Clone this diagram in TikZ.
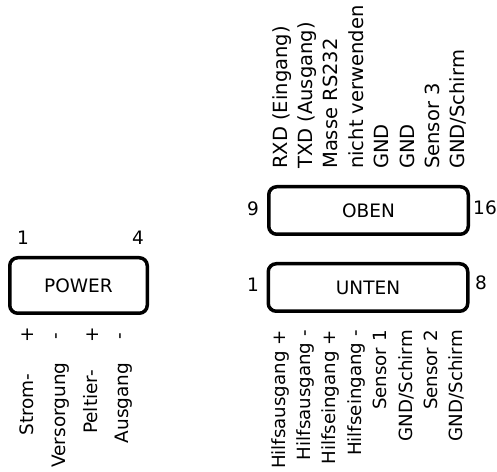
\documentclass[tikz,border=0pt]{standalone}
\usepackage{fontspec}
\setmainfont{DejaVu Sans}
\usetikzlibrary{arrows,shapes}

\begin{document}
\begin{tikzpicture}[>=latex]
      \tikzstyle{every node}=[font=\fontsize{18.5bp}{22bp}\selectfont]
      \tikzstyle{conbox}=[draw, rounded corners=8bp, line width=3.5bp, inner sep=0pt]
      \tikzstyle{pinup}=[rotate=90, inner sep=0pt, anchor=base west, font=\fontsize{19.5bp}{22bp}\selectfont]
      \tikzstyle{pindown}=[rotate=90, inner sep=0pt, anchor=base east, font=\fontsize{18.2bp}{22bp}\selectfont]
      \tikzstyle{pinmid}=[rotate=90, inner sep=0pt, anchor=base]

\useasboundingbox (0bp,0bp) rectangle (497bp,472bp);
%%
\node (c_power) at (78.5bp,186.5bp) [conbox, minimum width=137.5bp, minimum height=55.5bp] {POWER};
  \node (c_oben) at (368.5bp,261.5bp) [conbox, minimum width=199.5bp, minimum height=47.5bp] {OBEN};
  \node (c_unten) at (368bp,184.5bp) [conbox, minimum width=199.5bp, minimum height=47.5bp] {UNTEN};
%%
  \node (n_p1) at (23bp,234bp) [draw=none] {1};
  \node (n_p4) at (138bp,234bp) [draw=none] {4};
  \node (n_o9) at (253bp,263bp) [draw=none] {9};
  \node (n_o16) at (485bp,264bp) [draw=none] {16};
  \node (n_u1) at (253bp,187bp) [draw=none] {1};
  \node (n_u8) at (481bp,189bp) [draw=none] {8};
%%
  \node (s_p1) at (28bp,137bp) [rotate=90, inner sep=0pt] {+};
  \node (s_p2) at (59bp,136bp) [rotate=90, inner sep=0pt] {-};
  \node (s_p3) at (93bp,137bp) [rotate=90, inner sep=0pt] {+};
  \node (s_p4) at (123bp,136bp) [rotate=90, inner sep=0pt] {-};
  \node (w_p1) at (33bp,67.5bp) [pinmid] {Strom-};
  \node (w_p2) at (65bp,57bp) [pinmid] {Versorgung};
  \node (w_p3) at (97bp,70bp) [pinmid] {Peltier-};
  \node (w_p4) at (128bp,69bp) [pinmid] {Ausgang};
%%
  \node (l_o9) at (287bp,303bp) [pinup] {RXD (Eingang)};
  \node (l_o10) at (312.4bp,303bp) [pinup] {TXD (Ausgang)};
  \node (l_o11) at (337.8bp,303bp) [pinup] {Masse RS232};
  \node (l_o12) at (363.2bp,303bp) [pinup] {nicht verwenden};
  \node (l_o13) at (388.6bp,303bp) [pinup] {GND};
  \node (l_o14) at (414bp,303bp) [pinup] {GND};
  \node (l_o15) at (439.4bp,303bp) [pinup] {Sensor 3};
  \node (l_o16) at (464.8bp,303bp) [pinup] {GND/Schirm};
%%
  \node (l_u1) at (285bp,142bp) [pindown] {Hilfsausgang +};
  \node (l_u2) at (310.4bp,142bp) [pindown] {Hilfsausgang -};
  \node (l_u3) at (335.8bp,142bp) [pindown] {Hilfseingang +};
  \node (l_u4) at (361.2bp,142bp) [pindown] {Hilfseingang -};
  \node (l_u5) at (386.6bp,142bp) [pindown] {Sensor 1};
  \node (l_u6) at (412bp,142bp) [pindown] {GND/Schirm};
  \node (l_u7) at (437.4bp,142bp) [pindown] {Sensor 2};
  \node (l_u8) at (462.8bp,142bp) [pindown] {GND/Schirm};
%
\end{tikzpicture}
\end{document}
